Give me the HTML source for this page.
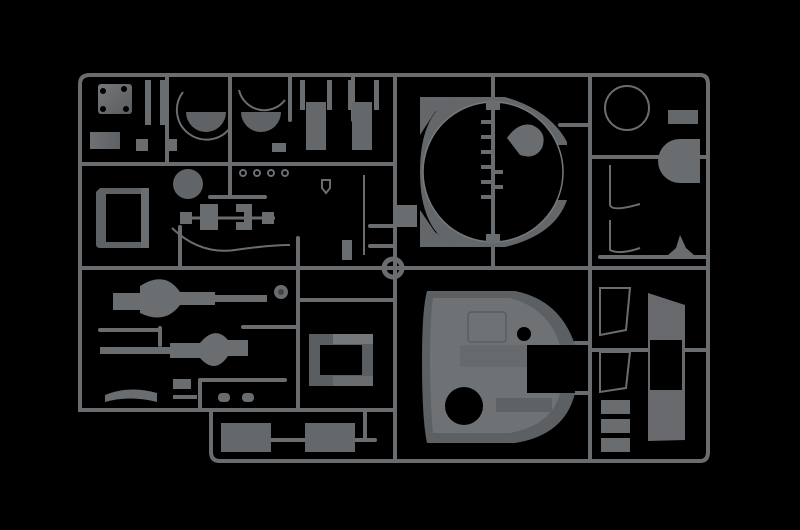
<!DOCTYPE html>
<html><head><style>
html,body{margin:0;padding:0;background:#000;width:800px;height:530px;overflow:hidden}
</style></head><body>
<svg width="800" height="530" viewBox="0 0 800 530" xmlns="http://www.w3.org/2000/svg">
<rect width="800" height="530" fill="#000"/>
<defs>
<linearGradient id="pg" x1="0" y1="0" x2="1" y2="1"><stop offset="0" stop-color="#74777a"/><stop offset="1" stop-color="#5a5d60"/></linearGradient>
<linearGradient id="tg" x1="0" y1="0" x2="1" y2="0"><stop offset="0" stop-color="#6e7174"/><stop offset="1" stop-color="#5e6164"/></linearGradient>
</defs>
<g stroke="#6a6d70" stroke-width="4" fill="none" stroke-linecap="round">
<path d="M80 410 V84 Q80 75 90 75 H700 Q708 75 708 84 V452 Q708 461 700 461 H220 Q211 461 211 452 V410 Z"/>
<line x1="80" y1="410" x2="395" y2="410"/>
<line x1="395" y1="75" x2="395" y2="461"/>
<line x1="590" y1="75" x2="590" y2="461"/>
<line x1="80" y1="164" x2="395" y2="164"/>
<line x1="80" y1="268" x2="708" y2="268"/>
<line x1="590" y1="157" x2="708" y2="157"/>
<line x1="230" y1="75" x2="230" y2="197"/>
<line x1="180" y1="227" x2="180" y2="268"/>
<line x1="298" y1="238" x2="298" y2="410"/>
<line x1="167" y1="75" x2="167" y2="164"/>
<line x1="353" y1="75" x2="353" y2="120"/>
<line x1="290" y1="75" x2="290" y2="120"/>
<line x1="493" y1="75" x2="493" y2="268"/>
<line x1="370" y1="226" x2="395" y2="226"/>
<line x1="370" y1="246" x2="395" y2="246"/>
<line x1="210" y1="197" x2="265" y2="197"/>
<line x1="243" y1="327" x2="298" y2="327"/>
<line x1="160" y1="328" x2="160" y2="345"/>
<line x1="100" y1="330" x2="160" y2="330"/>
<line x1="200" y1="380" x2="200" y2="410"/>
<line x1="200" y1="380" x2="285" y2="380"/>
<line x1="298" y1="300" x2="395" y2="300"/>
<line x1="265" y1="440" x2="375" y2="440"/>
<line x1="365" y1="410" x2="365" y2="440"/>
<line x1="590" y1="350" x2="708" y2="350"/>
<line x1="560" y1="125" x2="590" y2="125"/>
<line x1="575" y1="343" x2="590" y2="343"/>
<line x1="575" y1="393" x2="590" y2="393"/>
<line x1="600" y1="257" x2="708" y2="257"/>
</g>
<circle cx="393" cy="268" r="9" fill="none" stroke="#6a6d70" stroke-width="5"/>
<rect x="98" y="84" width="34" height="30" rx="3" fill="url(#pg)"/>
<circle cx="103" cy="109" r="3" fill="#000"/><circle cx="126" cy="109" r="3" fill="#000"/><circle cx="103" cy="91" r="3" fill="#000"/><circle cx="124" cy="89" r="3" fill="#000"/>
<rect x="90" y="132" width="30" height="17" fill="url(#tg)"/>
<rect x="145" y="80" width="6" height="45" fill="#6a6d70"/><rect x="160" y="80" width="6" height="45" fill="#6a6d70"/>
<rect x="136" y="139" width="12" height="12" fill="#6a6d70"/><rect x="165" y="139" width="12" height="12" fill="#6a6d70"/>
<path d="M186 112 A20 20 0 0 0 226 112 Z" fill="#606366"/>
<path d="M183 92 A26 26 0 0 0 230 128" fill="none" stroke="#6a6d70" stroke-width="2"/>
<path d="M241 112 A20 20 0 0 0 281 112 Z" fill="#606366"/>
<path d="M239 90 A26 26 0 0 0 285 100" fill="none" stroke="#6a6d70" stroke-width="2"/>
<rect x="300" y="80" width="5" height="30" fill="#6a6d70"/><rect x="327" y="80" width="5" height="30" fill="#6a6d70"/>
<rect x="306" y="102" width="20" height="48" fill="#65686b"/>
<rect x="348" y="80" width="5" height="30" fill="#6a6d70"/><rect x="374" y="80" width="5" height="30" fill="#6a6d70"/>
<rect x="352" y="102" width="20" height="48" fill="#65686b"/>
<rect x="272" y="143" width="14" height="9" fill="#6a6d70"/>
<path d="M100 188 H147 V248 H100 Q96 248 96 244 V192 Z" fill="#5f6265"/>
<rect x="106" y="194" width="35" height="48" fill="#000"/>
<rect x="141" y="188" width="8" height="60" fill="#6b6e71"/>
<circle cx="188" cy="184" r="15" fill="#626568"/>
<rect x="200" y="204" width="18" height="26" fill="#6a6d70"/>
<path d="M236 204 H252 V230 H236 V222 H244 V212 H236 Z" fill="#6a6d70"/>
<rect x="180" y="212" width="12" height="12" fill="#6a6d70"/><rect x="262" y="212" width="12" height="12" fill="#6a6d70"/>
<line x1="180" y1="218" x2="275" y2="218" stroke="#6a6d70" stroke-width="3"/>
<path d="M172 228 Q200 255 235 250 T290 245" fill="none" stroke="#6a6d70" stroke-width="2"/>
<g fill="none" stroke="#6a6d70" stroke-width="2"><circle cx="243" cy="173" r="3"/><circle cx="257" cy="173" r="3"/><circle cx="271" cy="173" r="3"/><circle cx="285" cy="173" r="3"/></g>
<path d="M322 180 h8 v8 l-4 5 l-4 -5 z" fill="none" stroke="#6a6d70" stroke-width="2"/>
<line x1="364" y1="175" x2="364" y2="255" stroke="#6a6d70" stroke-width="2"/>
<rect x="342" y="240" width="10" height="20" fill="#6a6d70"/>
<rect x="395" y="205" width="22" height="22" fill="#6a6d70"/>
<path d="M420 97 H455 L435 112 L420 135 Z M420 210 L435 232 L455 247 H420 Z" fill="#646769"/>
<path d="M455 97 H505 Q550 110 567 142 L567 145 L545 145 A70 70 0 0 0 430 172 A70 70 0 0 0 545 200 L567 200 Q555 235 505 247 H455 Q420 230 420 172 Q420 112 455 97 Z" fill="#646769"/>
<circle cx="493" cy="172" r="70" fill="#000" stroke="#777a7d" stroke-width="1.5"/>
<line x1="493" y1="100" x2="493" y2="244" stroke="#6a6d70" stroke-width="4"/>
<path d="M507 138 Q518 122 532 125 Q548 132 542 148 Q535 160 520 155 Z" fill="#6a6d70"/>
<g fill="#6a6d70"><rect x="481" y="120" width="10" height="4"/><rect x="481" y="135" width="10" height="4"/><rect x="481" y="150" width="10" height="4"/><rect x="481" y="165" width="10" height="4"/><rect x="481" y="180" width="10" height="4"/><rect x="481" y="195" width="10" height="4"/><rect x="495" y="170" width="8" height="4"/><rect x="495" y="185" width="8" height="4"/><rect x="486" y="102" width="14" height="8"/><rect x="486" y="234" width="14" height="8"/></g>
<circle cx="627" cy="108" r="22" fill="none" stroke="#6a6d70" stroke-width="2"/>
<rect x="668" y="110" width="30" height="14" fill="#65686b"/>
<path d="M700 139 H680 A22 22 0 0 0 680 183 H700 Z" fill="#6a6d70"/>
<path d="M610 165 V205 Q612 212 640 204 M610 220 V250 Q620 255 640 248" fill="none" stroke="#6a6d70" stroke-width="2"/>
<path d="M680 235 L686 248 L694 255 H668 L676 248 Z" fill="#6a6d70"/>
<rect x="113" y="293" width="40" height="17" fill="#6a6d70"/>
<path d="M140 286 Q165 270 180 292 H215 V305 H180 Q165 325 140 313 Z" fill="#6b6e71"/>
<rect x="215" y="295" width="52" height="7" fill="#6a6d70"/>
<rect x="100" y="347" width="80" height="7" fill="#6a6d70"/>
<path d="M170 343 H200 Q215 325 228 340 H248 V356 H228 Q215 375 200 358 H170 Z" fill="#6b6e71"/>
<circle cx="281" cy="292" r="7" fill="#6a6d70"/><circle cx="281" cy="292" r="3" fill="#444"/>
<path d="M105 395 Q130 385 157 393 V402 Q130 395 105 402 Z" fill="#6a6d70"/>
<rect x="173" y="379" width="18" height="10" fill="#6a6d70"/><rect x="173" y="395" width="24" height="4" fill="#6a6d70"/>
<rect x="218" y="393" width="12" height="9" rx="4" fill="#6a6d70"/><rect x="242" y="393" width="12" height="9" rx="4" fill="#6a6d70"/>
<rect x="221" y="423" width="50" height="29" fill="#65686b"/>
<rect x="305" y="423" width="50" height="29" fill="#65686b"/>
<path d="M309 334 H373 V386 H309 Z" fill="#5b5e61"/>
<rect x="320" y="345" width="42" height="30" fill="#000"/>
<rect x="333" y="334" width="40" height="10" fill="#75787b"/>
<rect x="333" y="376" width="40" height="10" fill="#6a6d70"/>
<path d="M427 291 H515 Q560 300 575 345 V393 Q565 435 515 443 H427 Q422 420 422 360 Q422 310 427 291 Z" fill="#5d6063"/>
<path d="M433 298 H510 Q548 308 560 345 V393 Q552 425 510 433 H433 Q430 400 430 360 Q430 320 433 298 Z" fill="#6f7275"/>
<rect x="527" y="345" width="48" height="48" fill="#000"/>
<circle cx="524" cy="334" r="7" fill="#000"/>
<circle cx="464" cy="406" r="19" fill="#000"/>
<rect x="468" y="312" width="38" height="30" rx="3" fill="none" stroke="#5a5d60" stroke-width="1.5"/>
<rect x="460" y="345" width="67" height="22" fill="#666a6d"/>
<rect x="496" y="398" width="56" height="14" fill="#5f6265"/>
<path d="M600 288 H630 L626 330 L600 335 Z" fill="none" stroke="#6a6d70" stroke-width="2"/>
<path d="M600 352 H630 L626 388 L600 392 Z" fill="none" stroke="#6a6d70" stroke-width="2"/>
<rect x="601" y="400" width="29" height="14" fill="#6a6d70"/><rect x="601" y="419" width="29" height="14" fill="#6a6d70"/><rect x="601" y="438" width="29" height="14" fill="#6a6d70"/>
<path d="M648 293 L685 305 V440 L648 441 Z" fill="#67696c"/>
<rect x="650" y="340" width="32" height="50" fill="#000"/>
</svg>
</body></html>
